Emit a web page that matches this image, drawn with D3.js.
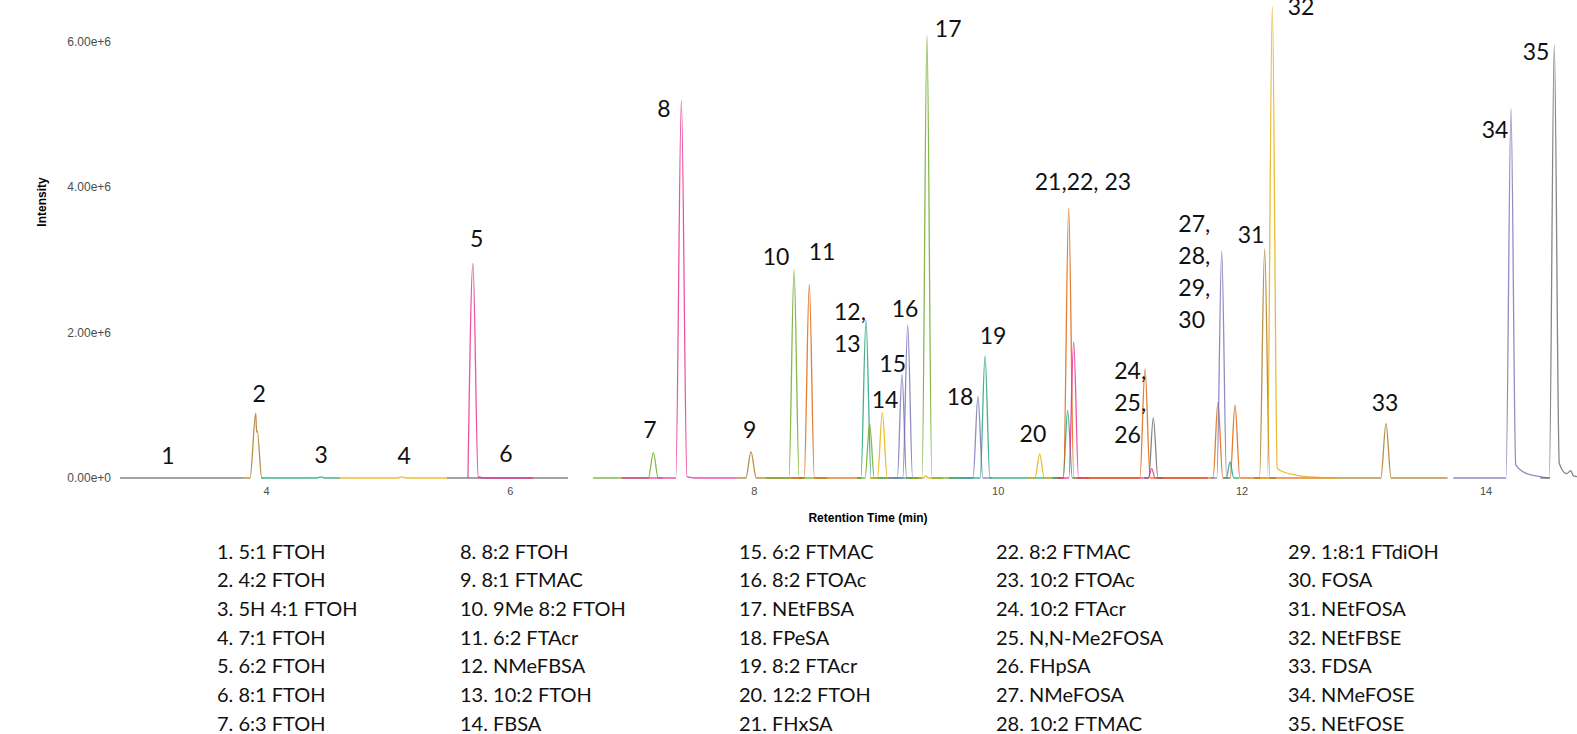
<!DOCTYPE html>
<html><head><meta charset="utf-8">
<script src="https://cdn.jsdelivr.net/npm/d3@7"></script>
<style>body{margin:0;background:#fff;} svg{display:block}</style>
</head><body><svg id="chart" width="1577" height="734"></svg>
<script>
// ---------------- DATA ----------------
const yTicks = [0, 2e6, 4e6, 6e6];
const xTicks = [4, 6, 8, 10, 12, 14];

const compoundNames = [
  "5:1 FTOH","4:2 FTOH","5H 4:1 FTOH","7:1 FTOH","6:2 FTOH","8:1 FTOH","6:3 FTOH",
  "8:2 FTOH","8:1 FTMAC","9Me 8:2 FTOH","6:2 FTAcr","NMeFBSA","10:2 FTOH","FBSA",
  "6:2 FTMAC","8:2 FTOAc","NEtFBSA","FPeSA","8:2 FTAcr","12:2 FTOH","FHxSA",
  "8:2 FTMAC","10:2 FTOAc","10:2 FTAcr","N,N-Me2FOSA","FHpSA","NMeFOSA","10:2 FTMAC",
  "1:8:1 FTdiOH","FOSA","NEtFOSA","NEtFBSE","FDSA","NMeFOSE","NEtFOSE"
];

// trace id (drawing order) and its colour group
const traceIds = ["t1","t2","t3","t4","t6","t5",
  "t7","t8","t9","t10","t11","t12","t13","t14","t15","t16","t17b","t17","t18","t19","t20",
  "t21","t22","t23","t25","t24","t26","t27","t28","t29","t31","t32","t33",
  "t34","t35"];
const traceGroup = {
  t1:"gray",t2:"brown",t3:"teal",t4:"yellow",t6:"gray",t5:"pink",
  t7:"green",t8:"pink",t9:"brown",t10:"green",t11:"orange",t12:"teal",t13:"green",t14:"yellow",
  t15:"purple",t16:"purple",t17b:"yellow",t17:"green",t18:"purple",t19:"teal",t20:"yellow",
  t21:"teal",t22:"orange",t23:"pink",t25:"pink",t24:"orange",t26:"gray",t27:"orange",
  t28:"purple",t29:"teal",t31:"brown",t32:"yellow",t33:"brown",t34:"purple",t35:"gray"
};
// [retention time (min), intensity] points
const tracePoints = {
  t1:  [[2.803,0],[3.811,0]],
  t2:  [[3.811,0],[3.869,0],[3.916,0.89e6],[3.923,0.63e6],[3.928,0.65e6],[3.965,0],[3.975,0]],
  t3:  [[3.965,0],[4.42,0],[4.451,0.015e6],[4.48,0],[4.607,0]],
  t4:  [[4.607,0],[5.08,0],[5.113,0.015e6],[5.145,0],[5.484,0]],
  t6:  [[5.484,0],[6.476,0]],
  t5:  [[5.656,0],[5.697,2.95e6],[5.74,0.02e6],[5.80,0],[6.189,0]],
  t7:  [[6.681,0],[7.136,0],[7.176,0.35e6],[7.216,0],[7.25,0]],
  t8:  [[6.917,0],[7.36,0],[7.406,5.19e6],[7.452,0.02e6],[7.52,0],[7.86,0]],
  t9:  [[7.86,0],[7.935,0],[7.977,0.36e6],[8.02,0],[8.40,0]],
  t10: [[8.10,0],[8.288,0],[8.330,2.86e6],[8.372,0],[8.60,0]],
  t11: [[8.30,0],[8.413,0],[8.455,2.66e6],[8.497,0],[8.88,0]],
  t12: [[8.85,0],[8.878,0],[8.920,2.17e6],[8.962,0],[9.30,0]],
  t13: [[8.85,0],[8.912,0],[8.950,0.74e6],[8.988,0],[9.10,0]],
  t14: [[8.95,0],[9.014,0],[9.054,0.90e6],[9.094,0],[9.15,0]],
  t15: [[9.10,0],[9.177,0],[9.215,1.42e6],[9.253,0],[9.35,0]],
  t16: [[9.15,0],[9.222,0],[9.262,2.10e6],[9.302,0],[9.35,0]],
  t17b:[[9.30,0],[9.39,0],[9.41,0.03e6],[9.43,0],[9.55,0]],
  t17: [[9.25,0],[9.38,0],[9.420,6.08e6],[9.46,0],[9.70,0]],
  t18: [[9.70,0],[9.798,0],[9.838,1.12e6],[9.878,0],[9.95,0]],
  t19: [[9.60,0],[9.856,0],[9.896,1.68e6],[9.936,0],[10.52,0]],
  t20: [[10.25,0],[10.306,0],[10.344,0.33e6],[10.382,0],[10.45,0]],
  t21: [[10.45,0],[10.536,0],[10.574,0.93e6],[10.612,0],[10.712,0]],
  t22: [[10.48,0],[10.54,0],[10.582,3.71e6],[10.624,0],[10.70,0]],
  t23: [[10.50,0],[10.583,0],[10.623,1.87e6],[10.663,0],[10.75,0]],
  t25: [[10.712,0],[11.235,0],[11.263,0.13e6],[11.29,0],[11.723,0]],
  t24: [[10.712,0],[11.166,0],[11.208,1.50e6],[11.25,0],[11.723,0]],
  t26: [[11.20,0],[11.238,0],[11.276,0.83e6],[11.314,0],[11.35,0]],
  t27: [[11.723,0],[11.766,0],[11.806,1.04e6],[11.846,0],[11.906,0],[11.946,1.00e6],[11.986,0],[12.762,0]],
  t28: [[11.75,0],[11.797,0],[11.837,3.12e6],[11.877,0],[11.90,0]],
  t29: [[11.85,0],[11.875,0],[11.905,0.22e6],[11.935,0],[11.98,0]],
  t31: [[12.10,0],[12.147,0],[12.189,3.15e6],[12.231,0],[12.28,0]],
  t32: [[12.15,0],[12.21,0],[12.252,6.48e6],[12.292,0.14e6],[12.32,0.10e6],[12.45,0.04e6],[12.60,0.01e6],[12.762,0]],
  t33: [[12.762,0],[13.142,0],[13.184,0.75e6],[13.226,0],[13.689,0]],
  t34: [[13.737,0],[14.168,0],[14.209,5.08e6],[14.248,0.18e6],[14.338,0.06e6],[14.447,0.02e6],[14.529,0]],
  t35: [[14.45,0],[14.523,0],[14.564,5.95e6],[14.605,0.20e6],[14.666,0.06e6],[14.699,0.10e6],[14.721,0.03e6],[14.75,0.02e6]]
};

// peak annotation: text, retention time, intensity of the text baseline
const peakLabelText = ["1","2","3","4","5","6","7","8","9","10","11","14","15","16","17","18","19","20","21,22, 23","31","32","33","34","35"];
const peakLabelTime = [3.196,3.943,4.453,5.132,5.728,5.968,7.149,7.264,7.966,8.182,8.559,9.077,9.139,9.241,9.594,9.691,9.962,10.289,10.699,12.077,12.487,13.176,14.078,14.414];
const peakLabelInt  = [0.188e6,1.049e6,0.202e6,0.192e6,3.18e6,0.224e6,0.546e6,4.958e6,0.546e6,2.928e6,2.997e6,0.966e6,1.461e6,2.217e6,6.066e6,1.003e6,1.842e6,0.499e6,3.959e6,3.234e6,6.364e6,0.925e6,4.669e6,5.746e6];
// stacked (left-aligned) annotations
const stackText = [["12,","13"],["24,","25,","26"],["27,","28,","29,","30"]];
const stackTime = [8.658, 10.956, 11.481];
const stackTopInt = [2.172e6, 1.361e6, 3.386e6];

// ---------------- STYLE / LAYOUT ----------------
const palette = {teal:"#1b9e77",orange:"#d95f02",purple:"#7570b3",pink:"#e7298a",
  green:"#66a61e",yellow:"#e6ab02",brown:"#a6761d",gray:"#666666"};

const svg = d3.select("#chart");
const x = d3.scaleLinear().domain([4,14]).range([266,1485.5]);
const y = d3.scaleLinear().domain([0,6e6]).range([478,41.5]);

const line = d3.line().x(d=>x(d[0])).y(d=>y(d[1])).curve(d3.curveMonotoneX);

svg.append("g").selectAll("path").data(traceIds).join("path")
  .attr("d", id => line(tracePoints[id]))
  .attr("fill","none")
  .attr("stroke", id => palette[traceGroup[id]])
  .attr("stroke-width",1.3)
  .attr("stroke-opacity",0.8);

// axes
const axFont = "'Liberation Sans', Arial, sans-serif";
const yAx = svg.append("g").attr("transform","translate(120,0)")
  .call(d3.axisLeft(y).tickValues(yTicks).tickFormat(d3.format(".2e")).tickSize(0).tickPadding(9));
yAx.select(".domain").remove();
yAx.selectAll("text").attr("font-family",axFont).attr("font-size",12).attr("fill","#4d4d4d");

const xAx = svg.append("g").attr("transform","translate(0,478)")
  .call(d3.axisBottom(x).tickValues(xTicks).tickFormat(d3.format("d")).tickSize(0).tickPadding(9));
xAx.select(".domain").remove();
xAx.selectAll("text").attr("font-family",axFont).attr("font-size",11).attr("fill","#4d4d4d");

svg.append("text").attr("transform","translate(46,202) rotate(-90)")
  .attr("text-anchor","middle").attr("font-family",axFont).attr("font-weight","bold")
  .attr("font-size",12).text("Intensity");
svg.append("text").attr("x",868).attr("y",522)
  .attr("text-anchor","middle").attr("font-family",axFont).attr("font-weight","bold")
  .attr("font-size",12).text("Retention Time (min)");

// peak labels
const lblFont = "Lato, 'Open Sans', sans-serif";
svg.append("g").selectAll("text").data(peakLabelText).join("text")
  .attr("x",(d,i)=>x(peakLabelTime[i])).attr("y",(d,i)=>y(peakLabelInt[i]))
  .attr("text-anchor","middle").attr("font-family",lblFont).attr("font-size",23)
  .attr("fill","#111").text(d=>d);

const lineStep = 32;
stackText.forEach((lines,k)=>{
  svg.append("g").selectAll("text").data(lines).join("text")
    .attr("x", x(stackTime[k])).attr("y",(d,i)=>y(stackTopInt[k]) + i*lineStep)
    .attr("font-family",lblFont).attr("font-size",23).attr("fill","#111").text(d=>d);
});

// compound legend, 5 columns x 7 rows
const colX = [217,460,739,996,1288];
const rowY0 = 558.5, rowStep = 28.7;
svg.append("g").selectAll("text").data(compoundNames).join("text")
  .attr("x",(d,i)=>colX[Math.floor(i/7)])
  .attr("y",(d,i)=>rowY0 + (i%7)*rowStep)
  .attr("font-family",lblFont).attr("font-size",20).attr("fill","#111")
  .text((d,i)=>`${i+1}. ${d}`);
</script>
</body></html>
